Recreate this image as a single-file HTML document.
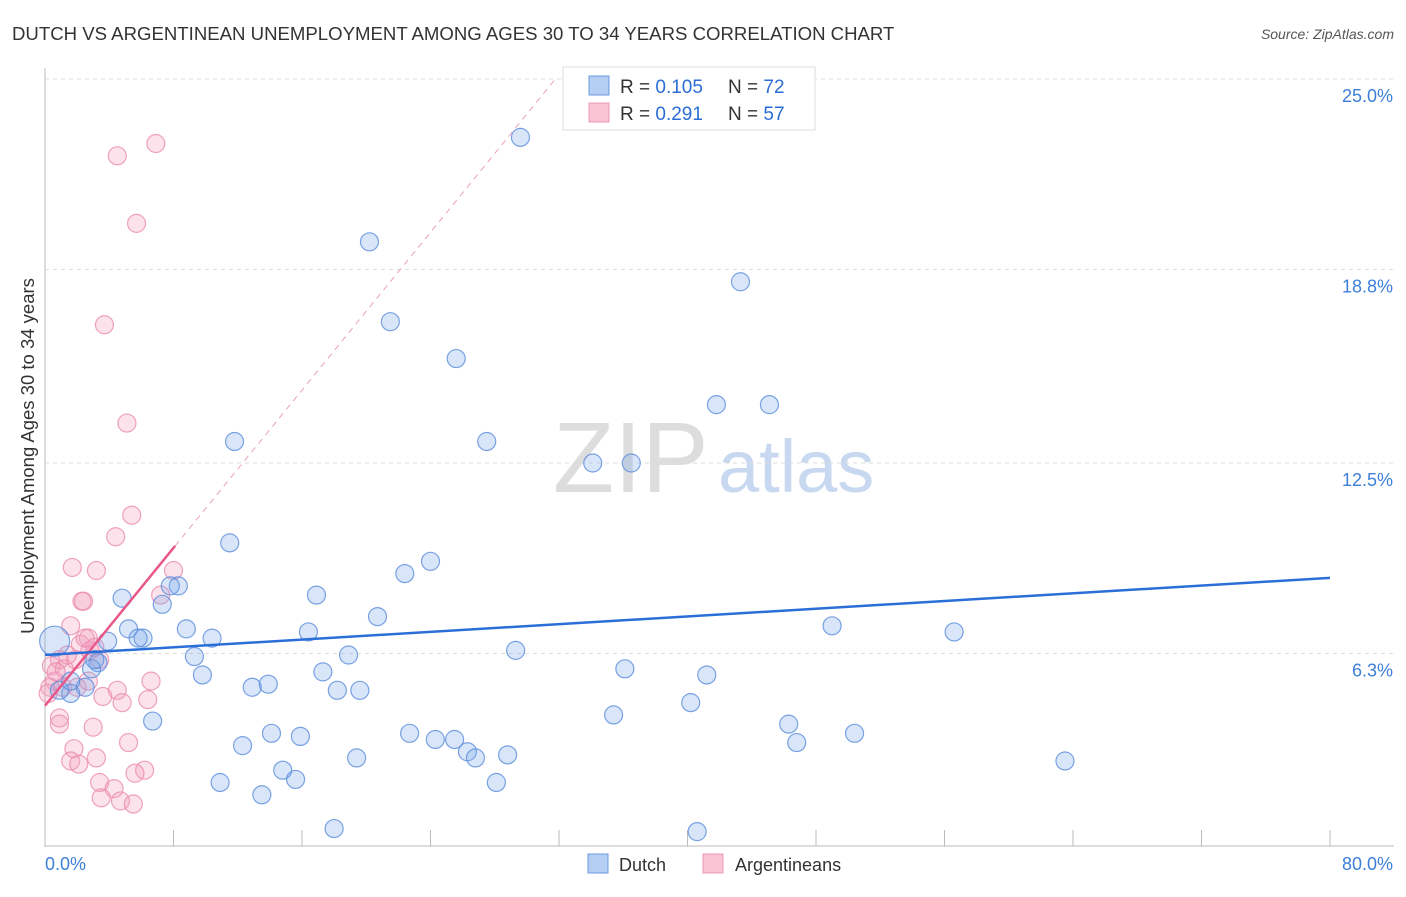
<!DOCTYPE html>
<html><head><meta charset="utf-8"><style>
body{margin:0;background:#fff;font-family:"Liberation Sans",sans-serif;}
svg text{font-family:"Liberation Sans",sans-serif;}
</style></head><body>
<svg width="1406" height="892" id="chart">
<text x="12" y="40" font-size="18.6" fill="#333">DUTCH VS ARGENTINEAN UNEMPLOYMENT AMONG AGES 30 TO 34 YEARS CORRELATION CHART</text>
<text x="1394" y="39" font-size="14" fill="#555" font-style="italic" text-anchor="end">Source: ZipAtlas.com</text>
<text x="34" y="456" font-size="18.5" fill="#333" text-anchor="middle" transform="rotate(-90 34 456)">Unemployment Among Ages 30 to 34 years</text>
<text x="553" y="492" font-size="100" fill="#ddd" font-family="Liberation Serif">ZIP</text>
<text x="718" y="492" font-size="74" fill="#c8d8f0">atlas</text>
<g id="grid"></g><g id="marks"></g>
<g>
<rect x="563" y="67" width="252" height="63" fill="#fff" stroke="#ddd"/>
<rect x="589" y="76" width="20" height="19" fill="#b5cff2" stroke="#6a9ae0"/>
<rect x="589" y="103" width="20" height="19" fill="#f8c4d4" stroke="#ee99b5"/>
<text x="620" y="93" font-size="19" fill="#333">R = <tspan fill="#2b6dd6">0.105</tspan></text>
<text x="728" y="93" font-size="19" fill="#333">N = <tspan fill="#2b6dd6">72</tspan></text>
<text x="620" y="120" font-size="19" fill="#333">R = <tspan fill="#2b6dd6">0.291</tspan></text>
<text x="728" y="120" font-size="19" fill="#333">N = <tspan fill="#2b6dd6">57</tspan></text>
</g>
<g>
<rect x="588" y="854" width="20" height="19" fill="#b5cff2" stroke="#6a9ae0"/>
<text x="619" y="871" font-size="18" fill="#333">Dutch</text>
<rect x="703" y="854" width="20" height="19" fill="#f8c4d4" stroke="#ee99b5"/>
<text x="735" y="871" font-size="18" fill="#333">Argentineans</text>
</g>
</svg>
<script>
const yTicks=[25,18.8,12.5,6.3];
const yTickLabels=["25.0%","18.8%","12.5%","6.3%"];
const xTicks=[0,8,16,24,32,40,48,56,64,72,80];
const dutchX=[29.6,20.2,43.3,21.5,25.6,41.8,45.1,11.8,27.5,34.1,36.5,11.5,24.0,22.4,8.3,7.8,4.8,7.3,16.9,20.7,8.8,5.2,16.4,49.0,56.6,6.1,5.8,10.4,3.9,29.3,18.9,9.3,3.3,2.9,17.3,36.1,9.8,41.2,12.9,13.9,18.2,19.6,0.6,1.6,6.7,35.4,40.2,46.3,14.1,22.7,24.3,25.5,15.9,12.3,26.3,26.8,28.8,19.4,46.8,50.4,63.5,14.8,15.6,10.9,28.1,13.5,18.0,40.6,0.9,2.5,3.1,1.6];
const dutchY=[23.1,19.7,18.4,17.1,15.9,14.4,14.4,13.2,13.2,12.5,12.5,9.9,9.3,8.9,8.5,8.5,8.1,7.9,8.2,7.5,7.1,7.1,7.0,7.2,7.0,6.8,6.8,6.8,6.7,6.4,6.25,6.2,6.0,5.8,5.7,5.8,5.6,5.6,5.2,5.3,5.1,5.1,6.7,5.0,4.1,4.3,4.7,4.0,3.7,3.7,3.5,3.5,3.6,3.3,3.1,2.9,3.0,2.9,3.4,3.7,2.8,2.5,2.2,2.1,2.1,1.7,0.6,0.5,5.1,5.2,6.1,5.4];
const argX=[6.9,4.5,5.7,3.7,5.1,5.4,4.4,1.7,3.2,2.3,2.4,8.0,7.2,1.6,2.7,2.2,2.8,0.9,0.4,1.9,3.4,1.2,0.6,0.3,1.1,0.2,2.0,4.5,6.6,3.6,6.4,4.8,0.9,0.9,3.0,5.2,1.8,1.6,2.1,3.2,6.2,5.6,3.4,4.3,3.5,4.7,5.5,2.5,1.4,0.7,2.7,3.1];
const argY=[22.9,22.5,20.3,17.0,13.8,10.8,10.1,9.1,9.0,8.0,8.0,9.0,8.2,7.2,6.8,6.6,6.4,6.1,5.9,6.1,6.1,5.8,5.4,5.2,5.2,5.0,5.2,5.1,5.4,4.9,4.8,4.7,4.2,4.0,3.9,3.4,3.2,2.8,2.7,2.9,2.5,2.4,2.1,1.9,1.6,1.5,1.4,6.8,6.25,5.7,5.4,6.5];
const dutchTrend=[6.25,8.76];
const argTrend=[4.6,0.642];
const NS="http://www.w3.org/2000/svg";
const X=v=>45+v/80*1285, Y=v=>847-v/25*768;
const grid=document.getElementById('grid'), marks=document.getElementById('marks');
function mk(tag,attrs,parent){const e=document.createElementNS(NS,tag);for(const k in attrs)e.setAttribute(k,attrs[k]);parent.appendChild(e);return e;}
let ax=mk('line',{x1:45,y1:68,x2:45,y2:847,stroke:'#bbb'},grid);


let bx=mk('line',{x1:45,y1:846,x2:1394,y2:846,stroke:'#bbb'},grid);


yTicks.forEach((t,i)=>{
 const g=mk('line',{x1:45,x2:1394,y1:Y(t),y2:Y(t),stroke:'#ddd','stroke-dasharray':'4,4'},grid);
 
 
 const tx=mk('text',{x:1393,y:Y(t)+23,'font-size':18,fill:'#3d7fd9','text-anchor':'end'},grid);tx.textContent=yTickLabels[i];
 
 
});
xTicks.forEach(t=>{
 const l=mk('line',{x1:X(t),x2:X(t),y1:830,y2:846,stroke:'#bbb'},grid);
 
 
});
const x0=mk('text',{x:45,y:870,'font-size':18,fill:'#3d7fd9'},grid);x0.textContent='0.0%';


const x1=mk('text',{x:1393,y:870,'font-size':18,fill:'#3d7fd9','text-anchor':'end'},grid);x1.textContent='80.0%';


argX.forEach((v,i)=>{
 const c=mk('circle',{cx:X(v),cy:Y(argY[i]),r:9,fill:'rgba(242,160,188,0.3)',stroke:'rgba(235,140,175,0.8)','stroke-width':1.2},marks);
 
 
});
dutchX.forEach((v,i)=>{
 const c=mk('circle',{cx:X(v),cy:Y(dutchY[i]),r:i==42?15:9,fill:'rgba(120,165,232,0.28)',stroke:'rgba(90,140,220,0.8)','stroke-width':1.2},marks);
 
 
});
const ae=(25-argTrend[0])/argTrend[1];
const d=mk('line',{x1:X(8.1),y1:Y(argTrend[0]+argTrend[1]*8.1),x2:X(ae),y2:Y(25),stroke:'#eaa0b8','stroke-dasharray':'6,5'},marks);


const p=mk('line',{x1:X(0),y1:Y(argTrend[0]),x2:X(8.1),y2:Y(argTrend[0]+argTrend[1]*8.1),stroke:'#e8588a','stroke-width':2.5},marks);


const b=mk('line',{x1:X(0),y1:Y(dutchTrend[0]),x2:X(80),y2:Y(dutchTrend[1]),stroke:'#2a6fd8','stroke-width':2.5},marks);


</script>
</body></html>
